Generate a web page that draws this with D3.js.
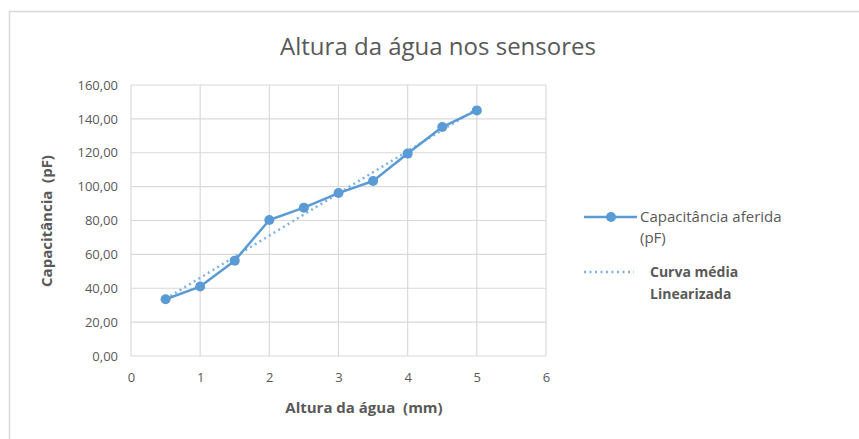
<!DOCTYPE html>
<html><head><meta charset="utf-8">
<script src="https://cdn.jsdelivr.net/npm/d3@7"></script>
<style>body{margin:0;background:#fff}svg{display:block}text{white-space:pre}</style>
</head><body>
<svg id="c" width="859" height="439"></svg>
<script>
const heights = [0.5, 1, 1.5, 2, 2.5, 3, 3.5, 4, 4.5, 5];
const capacitance = [33.5, 41, 56.3, 80.3, 87.6, 96.2, 103.3, 119.5, 135.2, 145];
const xTicks = [0, 1, 2, 3, 4, 5, 6];
const yTicks = [0, 20, 40, 60, 80, 100, 120, 140, 160];
const title = "Altura da água nos sensores";
const xTitle = "Altura da água  (mm)";
const yTitle = "Capacitância  (pF)";
const legendLabels = [["Capacitância aferida", "(pF)"], ["Curva média", "Linearizada"]];

const svg = d3.select("#c");
const W = 859, H = 439;
const plot = {l: 131, r: 546, t: 85, b: 356};
const txt = "#595959", grid = "#d9d9d9", blue = "#5B9BD5", lightBlue = "#7FB2E3";
const font = "'Open Sans', 'Noto Sans', sans-serif";

// outer chart border
svg.append("path").attr("d", `M9.5,${H} V11.5 H${W}`).attr("fill", "none").attr("stroke", grid).attr("stroke-width", 1.5);

const x = d3.scaleLinear().domain([0, 6]).range([plot.l, plot.r]);
const y = d3.scaleLinear().domain([0, 160]).range([plot.b, plot.t]);

// gridlines
const g = svg.append("g");
g.selectAll(".vg").data(xTicks).join("line")
  .attr("x1", d => x(d)).attr("x2", d => x(d)).attr("y1", plot.t).attr("y2", plot.b)
  .attr("stroke", grid).attr("stroke-width", 1.2);
g.selectAll(".hg").data(yTicks).join("line")
  .attr("x1", plot.l).attr("x2", plot.r).attr("y1", d => y(d)).attr("y2", d => y(d))
  .attr("stroke", grid).attr("stroke-width", 1.2);

// axes (labels only)
const yAxis = svg.append("g").attr("transform", `translate(${plot.l},0)`)
  .call(d3.axisLeft(y).tickValues(yTicks).tickSize(0).tickPadding(13)
    .tickFormat(d => d3.format(".2f")(d).replace(".", ",")));
yAxis.select(".domain").remove();
yAxis.selectAll("text").attr("fill", txt).style("font-family", font).style("font-size", "13px");

const xAxis = svg.append("g").attr("transform", `translate(0,${plot.b})`)
  .call(d3.axisBottom(x).tickValues(xTicks).tickSize(0).tickPadding(17).tickFormat(d3.format("d")));
xAxis.select(".domain").remove();
xAxis.selectAll("text").attr("fill", txt).style("font-family", font).style("font-size", "13px");

// title
svg.append("text").attr("x", 438).attr("y", 55).attr("text-anchor", "middle")
  .attr("fill", txt).style("font-family", "'Liberation Sans Narrow', 'Open Sans', sans-serif")
  .style("font-size", "24px").text(title);

// axis titles
svg.append("text").attr("x", 364).attr("y", 413).attr("text-anchor", "middle")
  .attr("fill", txt).style("font-family", font).style("font-size", "15px").style("font-weight", "bold").text(xTitle);
svg.append("text").attr("transform", "translate(52,221) rotate(-90)").attr("text-anchor", "middle")
  .attr("fill", txt).style("font-family", font).style("font-size", "15px").style("font-weight", "bold").text(yTitle);

// least squares trend line
const mx = d3.mean(heights), my = d3.mean(capacitance);
const slope = d3.sum(heights, (h, i) => (h - mx) * (capacitance[i] - my)) / d3.sum(heights, h => (h - mx) ** 2);
const icpt = my - slope * mx;
const x0 = d3.min(heights), x1 = d3.max(heights);
svg.append("line")
  .attr("x1", x(x0)).attr("y1", y(icpt + slope * x0))
  .attr("x2", x(x1)).attr("y2", y(icpt + slope * x1))
  .attr("stroke", lightBlue).attr("stroke-width", 2.5).attr("stroke-dasharray", "2,3.5");

// data series
const data = heights.map((h, i) => [h, capacitance[i]]);
svg.append("path").datum(data)
  .attr("d", d3.line().x(d => x(d[0])).y(d => y(d[1])))
  .attr("fill", "none").attr("stroke", blue).attr("stroke-width", 2.5).attr("stroke-linejoin", "round");
svg.selectAll(".pt").data(data).join("circle")
  .attr("cx", d => x(d[0])).attr("cy", d => y(d[1])).attr("r", 5).attr("fill", blue);

// legend
const lg = svg.append("g");
lg.append("line").attr("x1", 584).attr("x2", 637).attr("y1", 217).attr("y2", 217).attr("stroke", blue).attr("stroke-width", 2.5);
lg.append("circle").attr("cx", 611).attr("cy", 217).attr("r", 5).attr("fill", blue);
lg.append("text").attr("x", 640).attr("y", 222).attr("fill", txt).style("font-family", font).style("font-size", "15px").text(legendLabels[0][0]);
lg.append("text").attr("x", 640).attr("y", 243).attr("fill", txt).style("font-family", font).style("font-size", "15px").text(legendLabels[0][1]);
lg.append("line").attr("x1", 584).attr("x2", 634).attr("y1", 272).attr("y2", 272).attr("stroke", lightBlue).attr("stroke-width", 2.5).attr("stroke-dasharray", "2,3.5");
lg.append("text").attr("x", 650).attr("y", 277).attr("fill", txt).style("font-family", font).style("font-size", "14px").style("font-weight", "bold").text(legendLabels[1][0]);
lg.append("text").attr("x", 650).attr("y", 299).attr("fill", txt).style("font-family", font).style("font-size", "14px").style("font-weight", "bold").text(legendLabels[1][1]);
</script>
</body></html>
